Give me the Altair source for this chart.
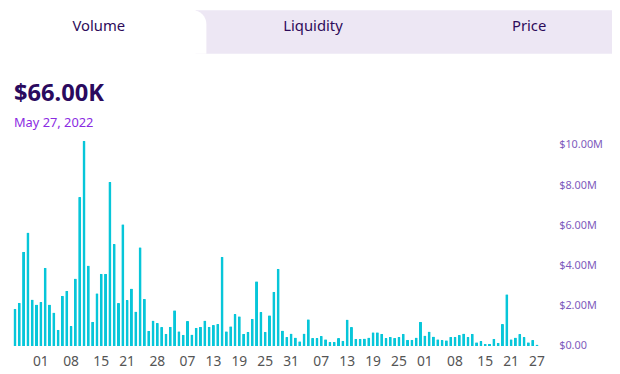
import altair as alt
import pandas as pd

# ---------------- data ----------------
START_DATE = "2022-01-26"
VOLUME_M = [
    1.85, 2.15, 4.68, 5.64, 2.31, 2.06, 2.18, 3.89, 2.06, 1.66,
    0.80, 2.50, 2.75, 0.99, 3.35, 7.41, 10.21, 4.00, 1.20, 2.62,
    3.59, 3.59, 8.16, 5.07, 2.13, 6.05, 2.28, 2.86, 1.71, 4.91,
    2.34, 0.75, 1.27, 1.14, 0.94, 0.60, 0.96, 1.77, 0.73, 0.55,
    1.24, 0.57, 0.91, 0.96, 1.27, 0.96, 1.04, 1.09, 4.44, 0.73,
    0.98, 1.59, 1.48, 0.60, 0.70, 1.35, 3.22, 1.69, 0.70, 1.53,
    2.70, 3.84, 0.77, 0.44, 0.62, 0.42, 0.23, 0.62, 1.33, 0.39,
    0.39, 0.49, 0.33, 0.20, 0.20, 0.39, 0.26, 1.32, 0.94, 0.36,
    0.36, 0.37, 0.42, 0.68, 0.68, 0.60, 0.39, 0.45, 0.40, 0.45,
    0.60, 0.31, 0.31, 0.42, 1.20, 0.52, 0.72, 0.47, 0.33, 0.29,
    0.28, 0.45, 0.45, 0.54, 0.62, 0.45, 0.60, 0.18, 0.24, 0.11,
    0.11, 0.36, 0.16, 1.09, 2.57, 0.33, 0.42, 0.59, 0.44, 0.18,
    0.29, 0.066,
]
TICK_DATES = [
    "2022-02-01", "2022-02-08", "2022-02-15", "2022-02-21", "2022-02-28",
    "2022-03-07", "2022-03-13", "2022-03-19", "2022-03-25", "2022-03-31",
    "2022-04-07", "2022-04-13", "2022-04-19", "2022-04-25", "2022-05-01",
    "2022-05-08", "2022-05-15", "2022-05-21", "2022-05-27",
]
Y_TICKS = [0, 2e6, 4e6, 6e6, 8e6, 10e6]
TABS = ["Volume", "Liquidity", "Price"]
HEADLINE = "$66.00K"
HEADLINE_DATE = "May 27, 2022"

dates = pd.date_range(START_DATE, periods=len(VOLUME_M), freq="D").strftime("%Y-%m-%d")
df = pd.DataFrame({"date": list(dates), "volume": [v * 1e6 for v in VOLUME_M]})
one = pd.DataFrame({"k": [0]})

FONT = "Noto Sans"
W, H = 604, 340
PX_PER_M = 20.37

# ---------------- decorations ----------------
tab_bg = alt.Chart(one).mark_rect(color="#ede7f4").encode(
    x=alt.value(190), x2=alt.value(612), y=alt.value(0), y2=alt.value(44)
)
tab_active = alt.Chart(one).mark_rect(color="white", cornerRadiusTopRight=14).encode(
    x=alt.value(0), x2=alt.value(201), y=alt.value(0), y2=alt.value(44)
)
tab_x = [92, 309, 528]
tab_texts = [
    alt.Chart(one).mark_text(text=t, font=FONT, fontSize=15, color="#2d0b5a",
                             align="center", baseline="middle").encode(
        x=alt.value(px), y=alt.value(16))
    for t, px in zip(TABS, tab_x)
]
headline = alt.Chart(one).mark_text(text=HEADLINE, font=FONT, fontSize=24, fontWeight="bold",
                                    color="#2a0a5e", align="left", baseline="alphabetic").encode(
    x=alt.value(6), y=alt.value(92))
headline_date = alt.Chart(one).mark_text(text=HEADLINE_DATE, font=FONT, fontSize=13,
                                         color="#8a2be2", align="left", baseline="alphabetic").encode(
    x=alt.value(6), y=alt.value(118))

# ---------------- bars ----------------
bars = alt.Chart(df).mark_bar(color="#07c6d9", cornerRadiusTopLeft=1, cornerRadiusTopRight=1).encode(
    x=alt.X("date:O",
            scale=alt.Scale(range=[5.5, 537.5], paddingInner=0.3, paddingOuter=0),
            axis=alt.Axis(values=TICK_DATES, labelExpr="substring(datum.value, 8, 10)",
                          labelAngle=0, title=None, labelFont=FONT, labelFontSize=14,
                          labelColor="#555555", labelPadding=9)),
    y=alt.Y("volume:Q",
            scale=alt.Scale(domain=[0, H / PX_PER_M * 1e6], nice=False, zero=True),
            axis=alt.Axis(orient="right", values=Y_TICKS, offset=-49, title=None,
                          labelExpr="datum.value == 0 ? '$0.00' : '$' + format(datum.value / 1e6, '.2f') + 'M'",
                          labelFont=FONT, labelFontSize=11, labelColor="#7e5bbd",
                          labelPadding=3, labelAlign="left")),
)

chart = alt.layer(tab_bg, tab_active, *tab_texts, headline, headline_date, bars).properties(
    width=W, height=H, padding=0
).configure_view(strokeWidth=0).configure_axis(grid=False, domain=False, ticks=False)

chart.save("out.html", embed_options={"renderer": "svg", "actions": False})
